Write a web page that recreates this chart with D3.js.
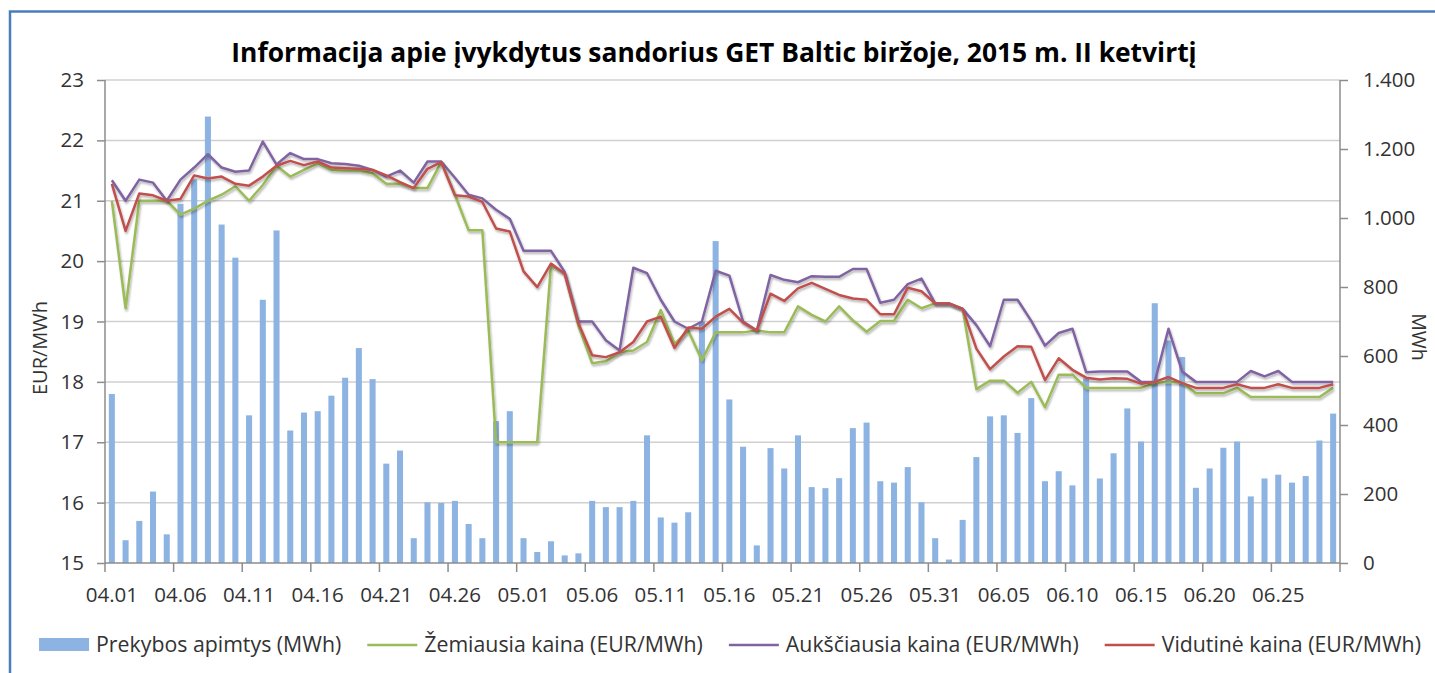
<!DOCTYPE html>
<html>
<head>
<meta charset="utf-8">
<script src="https://cdn.jsdelivr.net/npm/d3@7"></script>
<style>
  body { margin: 0; background: #fff; }
  text { font-family: "Open Sans", sans-serif; fill: #333; }
</style>
</head>
<body>
<div class="chart-container"></div>
<script>
// days of 2015 Q2 shown on the chart (04.01 .. 06.29)
const days = d3.timeDay
  .range(new Date(2015, 3, 1), new Date(2015, 5, 30))
  .map(d3.timeFormat("%m.%d"));

// Prekybos apimtys (MWh)
const volume = [
  490, 66, 122, 207, 83, 1041, 1112, 1294, 981, 885,
  428, 763, 964, 384, 436, 440, 485, 537, 623, 533,
  288, 326, 72, 176, 174, 180, 113, 72, 411, 440,
  72, 32, 63, 22, 28, 180, 162, 162, 180, 370,
  132, 117, 147, 699, 933, 474, 337, 51, 333, 274,
  370, 220, 217, 246, 391, 407, 237, 233, 278, 176,
  72, 10, 125, 307, 425, 428, 377, 478, 237, 266,
  225, 535, 245, 318, 448, 352, 753, 645, 597, 218,
  274, 334, 352, 193, 245, 256, 233, 252, 355, 433
];

// Žemiausia kaina (EUR/MWh)
const minPrice = [
  21.0, 19.22, 21.0, 21.0, 21.0, 20.77, 20.87, 21.0, 21.1, 21.24,
  21.0, 21.26, 21.58, 21.4, 21.51, 21.62, 21.51, 21.5, 21.5, 21.45,
  21.28, 21.28, 21.21, 21.21, 21.64, 21.1, 20.51, 20.51, 17.0, 17.0,
  17.0, 17.0, 19.93, 19.79, 18.93, 18.31, 18.34, 18.49, 18.52, 18.66,
  19.19, 18.63, 18.85, 18.36, 18.82, 18.82, 18.82, 18.85, 18.82, 18.82,
  19.25, 19.11, 19.0, 19.25, 19.02, 18.83, 19.01, 19.01, 19.36, 19.22,
  19.3, 19.3, 19.21, 17.88, 18.02, 18.02, 17.82, 18.0, 17.58, 18.12,
  18.12, 17.9, 17.9, 17.9, 17.9, 17.9, 17.98, 18.0, 17.99, 17.81,
  17.81, 17.81, 17.9, 17.75, 17.75, 17.75, 17.75, 17.75, 17.75, 17.9
];

// Aukščiausia kaina (EUR/MWh)
const maxPrice = [
  21.34, 21.0, 21.35, 21.3, 21.0, 21.35, 21.55, 21.77, 21.55, 21.48,
  21.5, 21.98, 21.6, 21.79, 21.69, 21.69, 21.62, 21.61, 21.58, 21.51,
  21.4, 21.5, 21.3, 21.65, 21.65, 21.38, 21.1, 21.04, 20.85, 20.7,
  20.17, 20.17, 20.17, 19.82, 19.0, 19.0, 18.69, 18.52, 19.89, 19.8,
  19.36, 19.0, 18.88, 19.0, 19.84, 19.76, 19.0, 18.85, 19.77, 19.69,
  19.65, 19.75, 19.74, 19.74, 19.87, 19.87, 19.31, 19.36, 19.62, 19.71,
  19.3, 19.3, 19.21, 18.94, 18.59, 19.36, 19.36, 19.01, 18.6, 18.81,
  18.88, 18.16, 18.17, 18.17, 18.17, 18.0, 18.0, 18.88, 18.17, 18.0,
  18.0, 18.0, 18.0, 18.18, 18.09, 18.18, 18.0, 18.0, 18.0, 18.0
];

// Vidutinė kaina (EUR/MWh)
const avgPrice = [
  21.28, 20.5, 21.12, 21.09, 21.0, 21.03, 21.42, 21.37, 21.4, 21.28,
  21.25, 21.4, 21.58, 21.66, 21.59, 21.65, 21.55, 21.54, 21.53, 21.51,
  21.42, 21.31, 21.21, 21.53, 21.64, 21.09, 21.07, 20.98, 20.54, 20.49,
  19.83, 19.57, 19.96, 19.79, 18.97, 18.44, 18.41, 18.49, 18.66, 19.0,
  19.08, 18.56, 18.9, 18.88, 19.08, 19.21, 18.98, 18.85, 19.46, 19.34,
  19.55, 19.64, 19.54, 19.44, 19.38, 19.36, 19.12, 19.12, 19.56, 19.5,
  19.3, 19.3, 19.21, 18.55, 18.21, 18.42, 18.59, 18.58, 18.03, 18.39,
  18.2, 18.07, 18.04, 18.06, 18.05, 17.97, 18.0, 18.08, 17.98, 17.9,
  17.9, 17.9, 17.96, 17.9, 17.9, 17.96, 17.9, 17.9, 17.9, 17.96
];

const priceTicks = [15, 16, 17, 18, 19, 20, 21, 22, 23];
const volumeTicks = [0, 200, 400, 600, 800, 1000, 1200, 1400];
const dayLabels = days.filter((d, i) => i % 5 === 0);

const titleText = "Informacija apie įvykdytus sandorius GET Baltic biržoje, 2015 m. II ketvirtį";
const legendNames = [
  "Prekybos apimtys (MWh)",
  "Žemiausia kaina (EUR/MWh)",
  "Aukščiausia kaina (EUR/MWh)",
  "Vidutinė kaina (EUR/MWh)"
];

const width = 1435;
const height = 673;
const plot = { left: 105, right: 1340, top: 80, bottom: 563 };

const colors = {
  bar: "#8db3e2",
  min: "#9bbb59",
  max: "#8064a2",
  avg: "#c0504d",
  grid: "#d0d0d0",
  axis: "#8c8c8c",
  frame: "#4a7ebb"
};

const svg = d3
  .select(".chart-container")
  .append("svg")
  .attr("width", width)
  .attr("height", height);

svg.append("rect").attr("width", width).attr("height", height).attr("fill", "#fff");

// chart frame (runs past the right / bottom edge of the window)
svg
  .append("rect")
  .attr("x", 10)
  .attr("y", 11.5)
  .attr("width", width + 20)
  .attr("height", height + 20)
  .attr("fill", "none")
  .attr("stroke", colors.frame)
  .attr("stroke-width", 2.5);

const defs = svg.append("defs");
defs
  .append("filter")
  .attr("id", "shadow")
  .attr("x", "-5%")
  .attr("y", "-20%")
  .attr("width", "110%")
  .attr("height", "140%")
  .append("feDropShadow")
  .attr("dx", 1)
  .attr("dy", 2)
  .attr("stdDeviation", 1.2)
  .attr("flood-color", "#000")
  .attr("flood-opacity", 0.3);

const x = d3
  .scaleBand()
  .domain(days)
  .range([plot.left, plot.right])
  .paddingInner(0.56)
  .paddingOuter(0.28);

const y = d3.scaleLinear().domain([15, 23]).range([plot.bottom, plot.top]);
const y2 = d3.scaleLinear().domain([0, 1400]).range([plot.bottom, plot.top]);

const ltFormat = d3.formatLocale({
  decimal: ",",
  thousands: ".",
  grouping: [3],
  currency: ["", " €"]
}).format(",d");

// gridlines
svg
  .append("g")
  .attr("class", "grid")
  .selectAll("line")
  .data(priceTicks.slice(1))
  .join("line")
  .attr("x1", plot.left)
  .attr("x2", plot.right)
  .attr("y1", (d) => y(d))
  .attr("y2", (d) => y(d))
  .attr("stroke", colors.grid)
  .attr("stroke-width", 1.5);

// bars
svg
  .append("g")
  .attr("class", "bars")
  .selectAll("rect")
  .data(volume)
  .join("rect")
  .attr("x", (d, i) => x(days[i]))
  .attr("width", x.bandwidth())
  .attr("y", (d) => y2(d))
  .attr("height", (d) => y2(0) - y2(d))
  .attr("fill", colors.bar);

// price lines
const line = d3
  .line()
  .x((d, i) => x(days[i]) + x.bandwidth() / 2)
  .y((d) => y(d));

const series = [
  { values: minPrice, color: colors.min },
  { values: maxPrice, color: colors.max },
  { values: avgPrice, color: colors.avg }
];

svg
  .append("g")
  .attr("class", "lines")
  .selectAll("path")
  .data(series)
  .join("path")
  .attr("d", (d) => line(d.values))
  .attr("fill", "none")
  .attr("stroke", (d) => d.color)
  .attr("stroke-width", 2.5)
  .attr("stroke-linejoin", "round")
  .attr("filter", "url(#shadow)");

// left axis
const axisLeft = svg
  .append("g")
  .attr("transform", `translate(${plot.left},0)`)
  .call(d3.axisLeft(y).tickValues(priceTicks).tickSize(8).tickPadding(13));

// right axis
const axisRight = svg
  .append("g")
  .attr("transform", `translate(${plot.right},0)`)
  .call(
    d3.axisRight(y2).tickValues(volumeTicks).tickSize(8).tickPadding(15).tickFormat(ltFormat)
  );

// bottom axis: labels centred on days, tick marks between days
const axisBottom = svg
  .append("g")
  .attr("transform", `translate(0,${plot.bottom})`)
  .call(
    d3.axisBottom(x).tickValues(dayLabels).tickSize(0).tickPadding(24)
  );

const gap = (x.step() - x.bandwidth()) / 2;
axisBottom
  .selectAll("line.sep")
  .data(dayLabels.map((d) => x(d) - gap).concat([plot.right]))
  .join("line")
  .attr("class", "sep")
  .attr("x1", (d) => d)
  .attr("x2", (d) => d)
  .attr("y1", 0)
  .attr("y2", 9)
  .attr("stroke", colors.axis)
  .attr("stroke-width", 1.5);

[axisLeft, axisRight, axisBottom].forEach((g) => {
  g.select(".domain").attr("stroke", colors.axis).attr("stroke-width", 1.5);
  g.selectAll(".tick line").attr("stroke", colors.axis).attr("stroke-width", 1.5);
  g.selectAll("text")
    .attr("font-size", 20.5)
    .attr("font-family", '"Open Sans", sans-serif')
    .attr("fill", "#333");
});
axisLeft.select(".domain").attr("d", `M0,${plot.bottom}V${plot.top}`);
axisRight.select(".domain").attr("d", `M0,${plot.bottom}V${plot.top}`);
axisBottom.select(".domain").attr("d", `M${plot.left},0H${plot.right}`);

// axis titles
svg
  .append("text")
  .attr("transform", "translate(47,348) rotate(-90)")
  .attr("text-anchor", "middle")
  .attr("font-size", 20)
  .text("EUR/MWh");

svg
  .append("text")
  .attr("transform", "translate(1412,337) rotate(90)")
  .attr("text-anchor", "middle")
  .attr("font-size", 19.5)
  .text("MWh");

// title
svg
  .append("text")
  .attr("x", 714)
  .attr("y", 62)
  .attr("text-anchor", "middle")
  .attr("font-size", 26.4)
  .attr("font-weight", "bold")
  .style("fill", "#000")
  .text(titleText);

// legend
const legend = svg.append("g").attr("class", "legend");
const legendItems = legend
  .selectAll("g")
  .data(legendNames)
  .join("g");

legendItems
  .append("text")
  .attr("x", 57)
  .attr("y", 645)
  .attr("dy", "0.35em")
  .attr("font-size", 21.3)
  .text((d) => d);

legendItems.each(function (d, i) {
  const g = d3.select(this);
  if (i === 0) {
    g.append("rect")
      .attr("x", 0)
      .attr("y", 638)
      .attr("width", 50)
      .attr("height", 13)
      .attr("fill", colors.bar);
  } else {
    g.append("line")
      .attr("x1", 0)
      .attr("x2", 50)
      .attr("y1", 645)
      .attr("y2", 645)
      .attr("stroke", series[i - 1].color)
      .attr("stroke-width", 2.5);
  }
});

let offset = 0;
const itemWidths = [];
legendItems.each(function () {
  const w = 57 + this.querySelector("text").getComputedTextLength();
  itemWidths.push(w);
});
const totalWidth = d3.sum(itemWidths) + 26 * (itemWidths.length - 1);
offset = 730 - totalWidth / 2;
legendItems.attr("transform", (d, i) => {
  const tx = offset;
  offset += itemWidths[i] + 26;
  return `translate(${tx},0)`;
});
</script>
</body>
</html>
